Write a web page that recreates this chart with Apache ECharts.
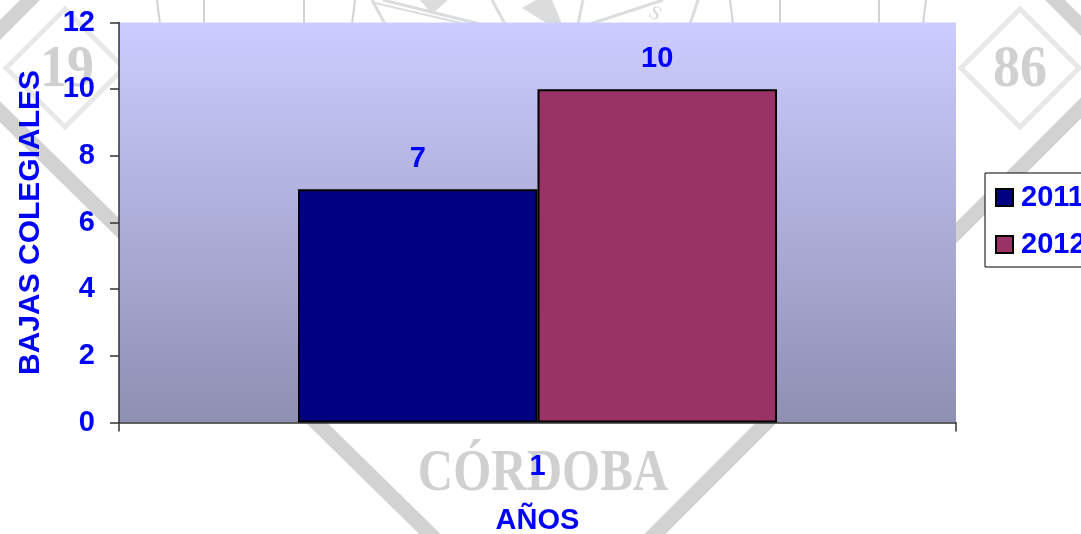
<!DOCTYPE html>
<html>
<head>
<meta charset="utf-8">
<style>html,body{margin:0;padding:0;background:#fff;overflow:hidden}#c{width:1081px;height:534px}</style>
<script src="https://cdn.jsdelivr.net/npm/echarts@6/dist/echarts.min.js"></script>
</head>
<body>
<div id="c"></div>
<script>
const categories = ['1'];
const values2011 = [7];
const values2012 = [10];
const seriesNames = ['2011', '2012'];
const yAxisTitle = 'BAJAS COLEGIALES';
const xAxisTitle = 'AÑOS';

const BLUE = '#0000ff';
const FONT = '"Liberation Sans", Arial, sans-serif';
const SERIF = '"Liberation Serif", serif';
const WZ = -10;

function stripe(x1, y1, x2, y2, w, c) {
  return { type: 'line', z: WZ, silent: true, shape: { x1, y1, x2, y2 }, style: { stroke: c || '#d2d2d2', lineWidth: w } };
}
function diamond(cx, cy, r) {
  return { type: 'polygon', z: WZ, silent: true, shape: { points: [[cx - r, cy], [cx, cy - r], [cx + r, cy], [cx, cy + r]] }, style: { fill: 'none', stroke: '#e8e8e8', lineWidth: 5 } };
}
function mark(text, x, y, size, weight, scaleY) {
  return { type: 'text', z: WZ, silent: true, x, y, scaleY, style: { text, fill: '#d0d0d0', font: weight + ' ' + size + 'px ' + SERIF, align: 'center', verticalAlign: 'middle' } };
}
const watermark = [
  stripe(-10, 40, 40, -10, 14),
  stripe(-10, 102, 440, 544, 15),
  stripe(645, 544, 1091, 98, 15),
  stripe(1045, -10, 1091, 36, 14),
  diamond(65, 68, 59),
  diamond(1020, 68, 59),
  mark('19', 67, 71, 54, 'bold', 1.1),
  mark('86', 1020, 71, 54, 'bold', 1.1),
  mark('CÓRDOBA', 543, 475, 49, 'bold', 1.2),
  stripe(157, 0, 160, 24, 2),
  stripe(204, 0, 204, 24, 2),
  stripe(304, 0, 304, 24, 2),
  stripe(355, 0, 352, 24, 2),
  stripe(372, 0, 385, 24, 3, '#dcdcdc'),
  stripe(383, 0, 480, 24, 3, '#dcdcdc'),
  stripe(375, 3, 465, 24, 2, '#dcdcdc'),
  stripe(492, 0, 505, 24, 3, '#dcdcdc'),
  { type: 'polygon', z: WZ, silent: true, shape: { points: [[420, 0], [448, 0], [432, 14]] }, style: { fill: '#dcdcdc' } },
  { type: 'polygon', z: WZ, silent: true, shape: { points: [[522, 8], [548, 24], [562, 24], [552, 0], [536, 0]] }, style: { fill: '#dcdcdc' } },
  stripe(578, 24, 583, 0, 3, '#dcdcdc'),
  stripe(590, 24, 663, 0, 3, '#dcdcdc'),
  stripe(690, 24, 698, 0, 3, '#dcdcdc'),
  stripe(730, 0, 733, 24, 2),
  stripe(780, 0, 780, 24, 2),
  stripe(879, 0, 879, 24, 2),
  stripe(926, 0, 923, 24, 2),
  { type: 'text', z: WZ, silent: true, x: 655, y: 14, rotation: -0.5, style: { text: 'S', fill: '#d8d8d8', font: '20px ' + SERIF, align: 'center', verticalAlign: 'middle' } }
];

const chart = echarts.init(document.getElementById('c'), null, { renderer: 'canvas' });
const labelStyle = { show: true, position: 'top', distance: 16, color: BLUE, fontFamily: FONT, fontWeight: 'bold', fontSize: 29 };
const barBorder = { borderColor: '#000', borderWidth: 2 };
chart.setOption({
  animation: false,
  backgroundColor: '#fff',
  graphic: watermark,
  grid: {
    left: 119, top: 22.5, width: 837, height: 400, show: true, borderWidth: 0, outerBoundsMode: 'none',
    backgroundColor: new echarts.graphic.LinearGradient(0, 0, 0, 1, [
      { offset: 0, color: '#ccccff' },
      { offset: 1, color: '#8f8fb3' }
    ])
  },
  legend: {
    orient: 'vertical', left: 985, top: 173, padding: [10, 60, 8, 10],
    backgroundColor: '#fff', borderColor: '#000', borderWidth: 1,
    itemWidth: 17, itemHeight: 17, itemGap: 18, icon: 'rect',
    textStyle: { color: BLUE, fontFamily: FONT, fontWeight: 'bold', fontSize: 29, padding: [0, 0, 0, 3] },
    data: seriesNames
  },
  xAxis: {
    type: 'category', data: categories,
    name: xAxisTitle, nameLocation: 'middle', nameGap: 84,
    nameTextStyle: { color: BLUE, fontFamily: FONT, fontWeight: 'bold', fontSize: 29 },
    axisLine: { lineStyle: { color: '#333', width: 1.5 } },
    axisTick: { show: true, length: 9, lineStyle: { color: '#333', width: 1.5 } },
    axisLabel: { color: BLUE, fontFamily: FONT, fontWeight: 'bold', fontSize: 29, margin: 30 },
    splitLine: { show: false }
  },
  yAxis: {
    type: 'value', min: 0, max: 12, interval: 2,
    name: yAxisTitle, nameLocation: 'middle', nameRotate: 90, nameGap: 73,
    nameTextStyle: { color: BLUE, fontFamily: FONT, fontWeight: 'bold', fontSize: 30 },
    axisLine: { show: true, lineStyle: { color: '#333', width: 1.5 } },
    axisTick: { show: true, length: 9, lineStyle: { color: '#333', width: 1.5 } },
    axisLabel: { color: BLUE, fontFamily: FONT, fontWeight: 'bold', fontSize: 29, margin: 24, padding: [5, 0, 0, 0] },
    splitLine: { show: false }
  },
  series: [
    { name: seriesNames[0], type: 'bar', data: values2011, barWidth: 239.5, barGap: 0, itemStyle: Object.assign({ color: '#000080' }, barBorder), label: labelStyle },
    { name: seriesNames[1], type: 'bar', data: values2012, barWidth: 239.5, barGap: 0, itemStyle: Object.assign({ color: '#993366' }, barBorder), label: labelStyle }
  ]
});
</script>
</body>
</html>
